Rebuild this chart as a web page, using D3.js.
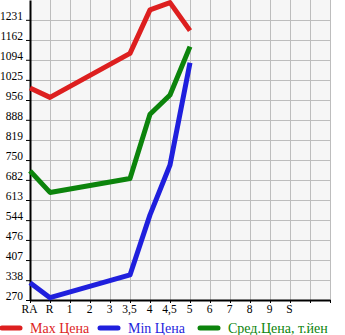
<!DOCTYPE html>
<html>
<head>
<meta charset="utf-8">
<script src="https://cdn.jsdelivr.net/npm/d3@7"></script>
<style>
  body { margin: 0; background: #fff; }
  svg text { font-family: "Liberation Serif", "DejaVu Serif", serif; }
</style>
</head>
<body>
<svg id="chart"></svg>
<script>
let width = 345
let height = 335

let grades = ['RA', 'R', '1', '2', '3', '3,5', '4', '4,5', '5', '6', '7', '8', '9', 'S', '', '']
let yTicks = [270, 338, 407, 476, 544, 613, 682, 750, 819, 888, 956, 1025, 1094, 1162, 1231]

// null = no price for that grade
let maxPrice = [997, 965, null, null, null, 1116, 1265, 1290, 1194, null, null, null, null, null, null, null]
let minPrice = [329, 278, null, null, null, 356, 562, 733, 1084, null, null, null, null, null, null, null]
let avgPrice = [713, 639, null, null, null, 687, 907, 973, 1139, null, null, null, null, null, null, null]

let seriesNames = ['Max Цена', 'Min Цена', 'Сред.Цена, т.йен']
let seriesColors = ['#dd1f1f', '#1f1fdd', '#0c840c']

let plotLeft = 30
let plotRight = 330
let plotTop = 0
let plotBottom = 300

let svg = d3.select('#chart')
svg.attr('width', width).attr('height', height)

let xScale = d3.scaleLinear()
               .domain([0, grades.length - 1])
               .range([plotLeft, plotRight])
let yScale = d3.scaleLinear()
               .domain([270, 1299])
               .range([plotBottom, plotTop])

svg.append('rect')
   .attr('x', plotLeft)
   .attr('y', plotTop)
   .attr('width', plotRight - plotLeft)
   .attr('height', plotBottom - plotTop)
   .attr('fill', '#f6f6f6')

// grid
svg.append('g')
   .selectAll('line')
   .data(d3.range(1, grades.length))
   .enter()
   .append('line')
   .attr('x1', (d) => Math.round(xScale(d)) + 0.5)
   .attr('x2', (d) => Math.round(xScale(d)) + 0.5)
   .attr('y1', plotTop)
   .attr('y2', plotBottom)
   .attr('stroke', '#bdbdbd')

svg.append('g')
   .selectAll('line')
   .data(yTicks.slice(1))
   .enter()
   .append('line')
   .attr('x1', plotLeft)
   .attr('x2', plotRight)
   .attr('y1', (d) => Math.round(yScale(d)) + 0.5)
   .attr('y2', (d) => Math.round(yScale(d)) + 0.5)
   .attr('stroke', '#bdbdbd')

// axes
let xAxis = d3.axisBottom(xScale)
              .tickValues(d3.range(grades.length))
              .tickFormat((d) => grades[d])
              .tickSize(3)
              .tickSizeOuter(0)
let yAxis = d3.axisLeft(yScale)
              .tickValues(yTicks)
              .tickFormat((d) => d)
              .tickSize(4)
              .tickSizeOuter(0)

let gx = svg.append('g')
            .attr('transform', 'translate(0,' + plotBottom + ')')
            .call(xAxis)
gx.select('.domain').attr('stroke', '#000').attr('stroke-width', 2)
gx.selectAll('.tick line').attr('stroke', '#000')
gx.selectAll('.tick text')
  .attr('font-size', 11.5)
  .attr('fill', '#000')
  .attr('dx', -1)
  .attr('y', 5)

let gy = svg.append('g')
            .attr('transform', 'translate(' + plotLeft + ',0)')
            .call(yAxis)
gy.select('.domain').attr('stroke', '#000').attr('stroke-width', 2)
gy.selectAll('.tick line').attr('stroke', '#000')
gy.selectAll('.tick text')
  .attr('font-size', 11.5)
  .attr('fill', '#000')
  .attr('x', -7)
  .attr('dy', '-0.05em')

// lines
let line = d3.line()
             .x((d) => xScale(d.i))
             .y((d) => yScale(d.v))

let allSeries = [maxPrice, minPrice, avgPrice]
allSeries.forEach((s, k) => {
  let pts = s.map((v, i) => ({ i: i, v: v })).filter((d) => d.v != null)
  svg.append('path')
     .datum(pts)
     .attr('d', line)
     .attr('fill', 'none')
     .attr('stroke', seriesColors[k])
     .attr('stroke-width', 5)
     .attr('stroke-linejoin', 'round')
})

// legend
let legendX = [0, 98, 198]
let legend = svg.append('g')
seriesNames.forEach((name, k) => {
  legend.append('line')
        .attr('x1', legendX[k] + 2)
        .attr('x2', legendX[k] + 20)
        .attr('y1', 328)
        .attr('y2', 328)
        .attr('stroke', seriesColors[k])
        .attr('stroke-width', 5)
        .attr('stroke-linecap', 'round')
  legend.append('text')
        .attr('x', legendX[k] + 30)
        .attr('y', 333)
        .attr('font-size', 14)
        .attr('fill', seriesColors[k])
        .text(name)
})
</script>
</body>
</html>
